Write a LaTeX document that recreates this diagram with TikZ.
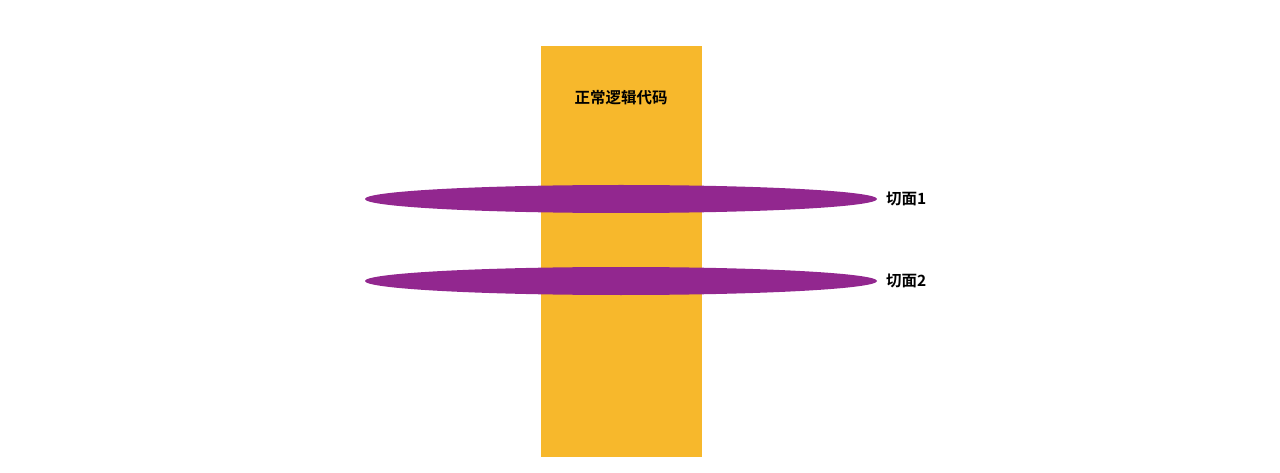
\documentclass[tikz,border=0pt]{standalone}
\usepackage{fontspec}
\usetikzlibrary{shapes.geometric}
\newfontfamily\cjk{Noto Sans CJK SC Bold}
\definecolor{codeorange}{HTML}{F7B82C}
\definecolor{aspectpurple}{HTML}{92278F}
\begin{document}
\begin{tikzpicture}[x=1pt,y=-1pt,
  codebox/.style={fill=codeorange,draw=none,minimum width=161pt,minimum height=411pt,inner sep=0pt},
  aspect/.style={ellipse,fill=aspectpurple,draw=none,minimum width=512pt,minimum height=28pt,inner sep=0pt},
  lbl/.style={font=\cjk\fontsize{15.5}{18}\selectfont,text=black,inner sep=0pt}]
\useasboundingbox (0,0) rectangle (1280,473);
\node[codebox] (code) at (621.5,251.5) {};
\node[lbl] (codelbl) at (621,98) {正常逻辑代码};
\node[aspect] (a1) at (621,199) {};
\node[aspect] (a2) at (621,281) {};
\node[lbl,anchor=west] (l1) at (886,199) {切面1};
\node[lbl,anchor=west] (l2) at (886,281) {切面2};
\end{tikzpicture}
\end{document}
